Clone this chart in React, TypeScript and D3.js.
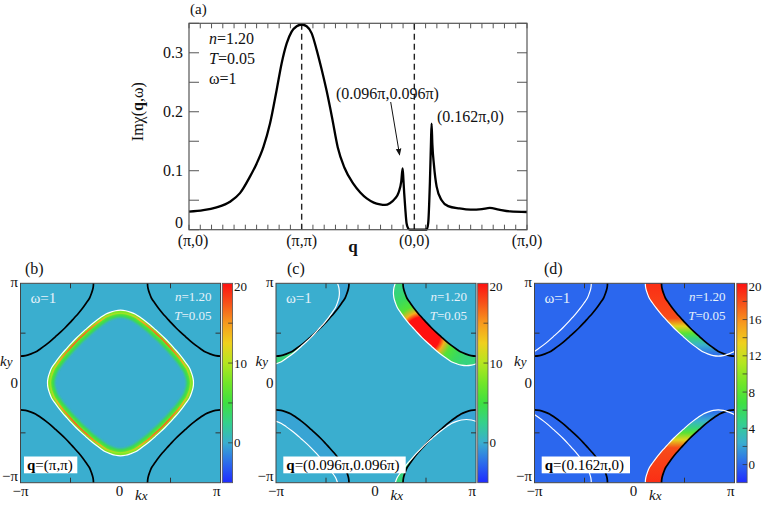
import React from 'react';
import * as d3 from 'd3';

document.body.style.margin = '0';

const W = 763;
const H = 508;
const FONT = '"Liberation Serif", "Times New Roman", serif';

// ---- panel (a): Im chi along (pi,0) -> (pi,pi) -> (0,0) -> (pi,0), one unit per segment
const qPath = [
  0, 0.127, 0.245, 0.364, 0.4525, 0.541, 0.6, 0.66, 0.719, 0.778, 0.822, 0.867, 0.911, 0.956, 1.0,
  1.044, 1.089, 1.133, 1.177, 1.222, 1.27, 1.32, 1.38, 1.458, 1.52, 1.577, 1.64, 1.695, 1.74, 1.783,
  1.83, 1.86, 1.884, 1.896, 1.903, 1.91, 1.92, 1.931, 1.945, 1.96, 2.03, 2.109, 2.123, 2.138, 2.148,
  2.153, 2.16, 2.174, 2.198, 2.242, 2.3, 2.4, 2.5, 2.6, 2.67, 2.75, 2.85, 3.0,
];
const chiValues = [
  0.0305, 0.033, 0.038, 0.0475, 0.062, 0.09, 0.112, 0.14, 0.18, 0.237, 0.282, 0.316, 0.336, 0.345, 0.348,
  0.345, 0.333, 0.305, 0.272, 0.235, 0.19, 0.14, 0.105, 0.078, 0.063, 0.053, 0.046, 0.043, 0.042, 0.045,
  0.053, 0.063, 0.082, 0.104, 0.085, 0.062, 0.035, 0.011, 0.0025, 0, 0, 0, 0.011, 0.079, 0.15,
  0.18, 0.145, 0.11, 0.073, 0.05, 0.04, 0.036, 0.034, 0.035, 0.037, 0.034, 0.031, 0.03,
];
const qTickPos = [0, 1, 2, 3];
const qTickLabels = ['(π,0)', '(π,π)', '(0,0)', '(π,0)'];
const chiTickLabels = [0, 0.1, 0.2, 0.3];
const dashedAt = [1, 2];

// ---- Fermi-surface arc (one quadrant round a pocket centre), offsets in units of pi
const fsArcX = [0.73, 0.725, 0.71, 0.69, 0.656, 0.62, 0.58, 0.535, 0.49, 0.446, 0.4, 0.35, 0.3, 0.25, 0.2, 0.15, 0.1, 0.05, 0];
const fsArcY = [0, 0.05, 0.1, 0.15, 0.2, 0.25, 0.3, 0.35, 0.4, 0.446, 0.49, 0.535, 0.58, 0.62, 0.656, 0.69, 0.71, 0.725, 0.73];
const pocketCentresX = [1, -1, 1, -1];
const pocketCentresY = [1, 1, -1, -1];

// ---- maps (b), (c), (d)
const mapIds = ['b', 'c', 'd'];
const mapQx = [1, 0.096, 0.162];
const mapQy = [1, 0.096, 0];
const mapQLabels = ['(π,π)', '(0.096π,0.096π)', '(0.162π,0)'];
const cbMin = [-5, -5, -2];
const cbMax = [20, 20, 20];
const cbTickValues = [[0, 5, 10, 15], [0, 5, 10, 15], [0, 2, 4, 6, 8, 10, 12, 14, 16, 18]];
const cbTickLabels = [[0, 10, 20], [0, 10, 20], [0, 4, 8, 12, 16, 20]];

// colour map (fraction of colour-bar range -> colour)
const cmapPos = [0, 0.09, 0.2, 0.3, 0.4, 0.5, 0.6, 0.7, 0.8, 0.9, 1];
const cmapColors = ['#1f2bff', '#2b66ee', '#3aaecf', '#34d08c', '#3ee040', '#72e628', '#b4e620', '#efd01e', '#f79a1e', '#f6521a', '#ff1010'];

// intensities
const bBandLevels = [5, 8];
const bRidgeStops = [0, 0.8, 0.87, 0.93, 1];
const bRidgeLevels = [17, 17, 14, 9, 6];
const cBlobCentre = [0.46, 0.48];
const cBlobStops = [0, 0.36, 0.46, 0.6, 0.8, 1];
const cBlobLevels = [20, 20, 14, 6, 4, 3];
const cNegLevel = -0.4;
const dBandKy = [1, 0.65, 0.57, 0.5, 0.45, 0.38, 0.3, 0];
const dBandLevels = [19, 18, 13, 8, 5, 2.5, 0.5, 0];

// layout
const mapLeft = [20.5, 276, 534.5];
const mapSize = 200;
const mapTop = 283.3;
const mapBottom = 482.7;
const cbLeft = [222.3, 477.7, 736.8];
const cbWidth = 10.3;
const letterX = [25, 287, 544];
const qBoxX = [24, 283.3, 541.7];
const qBoxW = [53.3, 122.4, 88.3];

const xA = d3.scaleLinear().domain([0, 3]).range([189, 527]);
const yA = d3.scaleLinear().domain([0, 0.35]).range([229.7, 23.3]);

// full closed pocket built from the quadrant arc
const ring: [number, number][] = (() => {
  const n = fsArcX.length;
  const pts: [number, number][] = [];
  for (let i = 0; i < n; i++) pts.push([fsArcX[i], fsArcY[i]]);
  for (let i = n - 2; i >= 0; i--) pts.push([-fsArcX[i], fsArcY[i]]);
  for (let i = 1; i < n; i++) pts.push([-fsArcX[i], -fsArcY[i]]);
  for (let i = n - 2; i >= 1; i--) pts.push([fsArcX[i], -fsArcY[i]]);
  return pts;
})();

function ChiPanel() {
  const line = d3.line<number>()
    .x((_, i) => xA(qPath[i]))
    .y(d => yA(d))
    .curve(d3.curveMonotoneX);
  const [x0, x1] = xA.range();
  const [y0, y1] = yA.range();
  const minorX = d3.range(0, 31).map(i => i / 10);
  const minorY = d3.range(0, 8).map(i => i * 0.05);
  return (
    <g fontFamily={FONT} fill="#111">
      <text x={190} y={14} fontSize={15}>(a)</text>
      {minorX.map(t => (
        <g key={'xt' + t} stroke="#555" strokeWidth={1}>
          <line x1={xA(t)} x2={xA(t)} y1={y0} y2={y0 - 5} />
          <line x1={xA(t)} x2={xA(t)} y1={y1} y2={y1 + 5} />
        </g>
      ))}
      {minorY.map(v => (
        <g key={'yt' + v} stroke="#555" strokeWidth={1}>
          <line x1={x0} x2={x0 + 10} y1={yA(v)} y2={yA(v)} />
          <line x1={x1} x2={x1 - 10} y1={yA(v)} y2={yA(v)} />
        </g>
      ))}
      {dashedAt.map(t => (
        <line key={'d' + t} x1={xA(t)} x2={xA(t)} y1={y0} y2={y1} stroke="#222" strokeWidth={1.4} strokeDasharray="6,4" />
      ))}
      <path d={line(chiValues) || ''} fill="none" stroke="#000" strokeWidth={2.3} />
      <rect x={x0} y={y1} width={x1 - x0} height={y0 - y1} fill="none" stroke="#555" strokeWidth={1.2} />
      {chiTickLabels.map(v => (
        <text key={'yl' + v} x={183} y={v === 0 ? 228 : yA(v) + 5.5} fontSize={16} textAnchor="end">{v}</text>
      ))}
      {qTickPos.map((t, i) => (
        <text key={'xl' + t} x={xA(t) + (i === 0 ? 4 : 0)} y={246} fontSize={16} textAnchor="middle">{qTickLabels[i]}</text>
      ))}
      <text x={353} y={252} fontSize={17} fontWeight="bold" textAnchor="middle">q</text>
      <text transform="translate(143,111.7) rotate(-90)" fontSize={16} textAnchor="middle">
        Imχ(<tspan fontWeight="bold">q</tspan>,ω)
      </text>
      <text x={209} y={44} fontSize={16}><tspan fontStyle="italic">n</tspan>=1.20</text>
      <text x={209} y={64} fontSize={16}><tspan fontStyle="italic">T</tspan>=0.05</text>
      <text x={209} y={83.5} fontSize={16}>ω=1</text>
      <text x={336} y={99} fontSize={16}>(0.096π,0.096π)</text>
      <text x={437} y={122} fontSize={16}>(0.162π,0)</text>
      <line x1={390.7} y1={102} x2={399.6} y2={155} stroke="#111" strokeWidth={1} markerEnd="url(#arrowhead)" />
    </g>
  );
}

function MapPanel({ i }: { i: number }) {
  const id = mapIds[i];
  const x0 = mapLeft[i];
  const x1 = x0 + mapSize;
  const kx = d3.scaleLinear().domain([-1, 1]).range([x0, x1]);
  const ky = d3.scaleLinear().domain([-1, 1]).range([mapBottom, mapTop]);
  const lo = cbMin[i];
  const hi = cbMax[i];
  const color = d3.scaleLinear<string>()
    .domain(cmapPos.map(f => lo + f * (hi - lo)))
    .range(cmapColors)
    .interpolate(d3.interpolateRgb);
  const cbY = d3.scaleLinear().domain([lo, hi]).range([mapBottom, mapTop]);

  const pocket = (cx: number, cy: number, s = 1) =>
    d3.line<[number, number]>()
      .x(p => kx(cx + s * p[0]))
      .y(p => ky(cy + s * p[1]))
      .curve(d3.curveCatmullRomClosed)(ring) || '';

  const blackPaths = pocketCentresX.map((cx, j) => pocket(cx, pocketCentresY[j]));
  const whiteCentres: [number, number][] = [];
  pocketCentresX.forEach((cx, j) => {
    for (const m of [-2, 0, 2]) {
      for (const n of [-2, 0, 2]) {
        const wx = cx - mapQx[i] + m;
        const wy = pocketCentresY[j] - mapQy[i] + n;
        if (Math.abs(wx) < 1.8 && Math.abs(wy) < 1.8 && !whiteCentres.some(c => Math.abs(c[0] - wx) < 1e-6 && Math.abs(c[1] - wy) < 1e-6)) {
          whiteCentres.push([wx, wy]);
        }
      }
    }
  });
  const whitePaths = whiteCentres.map(c => pocket(c[0], c[1]));
  const ridgePaths = whiteCentres.map(c => pocket(c[0], c[1], 0.962));

  const dStops: { o: number; v: number }[] = [];
  dBandKy.forEach((k, j) => dStops.push({ o: (1 - k) / 2, v: dBandLevels[j] }));
  for (let j = dBandKy.length - 2; j >= 0; j--) dStops.push({ o: (1 + dBandKy[j]) / 2, v: dBandLevels[j] });

  const innerTicks = [-0.5, 0.5];
  const cbTop = mapTop;
  const cbBottom = mapBottom;

  return (
    <g fontFamily={FONT}>
      <defs>
        <clipPath id={`panel-${id}`}>
          <rect x={x0} y={mapTop} width={mapSize} height={mapBottom - mapTop} />
        </clipPath>
        <clipPath id={`win-${id}`}>
          {whitePaths.map((d, j) => <path key={j} d={d} />)}
        </clipPath>
        <mask id={`pos-${id}`} maskUnits="userSpaceOnUse" x={0} y={0} width={W} height={H}>
          <rect x={0} y={0} width={W} height={H} fill="black" />
          {whitePaths.map((d, j) => <path key={'w' + j} d={d} fill="white" />)}
          {blackPaths.map((d, j) => <path key={'b' + j} d={d} fill="black" />)}
        </mask>
        <mask id={`neg-${id}`} maskUnits="userSpaceOnUse" x={0} y={0} width={W} height={H}>
          <rect x={0} y={0} width={W} height={H} fill="black" />
          {blackPaths.map((d, j) => <path key={'b' + j} d={d} fill="white" />)}
          {whitePaths.map((d, j) => <path key={'w' + j} d={d} fill="black" />)}
        </mask>
        <radialGradient id={`ridge-${id}`} gradientUnits="userSpaceOnUse" cx={kx(0)} cy={ky(0)} r={75}>
          {bRidgeStops.map((o, j) => <stop key={j} offset={o} stopColor={color(bRidgeLevels[j])} />)}
        </radialGradient>
        <radialGradient id={`blob-${id}`} gradientUnits="userSpaceOnUse" cx={kx(cBlobCentre[0])} cy={ky(cBlobCentre[1])} r={50}>
          {cBlobStops.map((o, j) => <stop key={j} offset={o} stopColor={color(cBlobLevels[j])} />)}
        </radialGradient>
        <linearGradient id={`crescent-${id}`} gradientUnits="userSpaceOnUse" x1={0} y1={ky(1)} x2={0} y2={ky(-1)}>
          {dStops.map((s, j) => <stop key={j} offset={s.o} stopColor={color(s.v)} />)}
        </linearGradient>
        <linearGradient id={`cb-${id}`} x1={0} y1={1} x2={0} y2={0}>
          {cmapPos.map((f, j) => <stop key={j} offset={f} stopColor={cmapColors[j]} />)}
        </linearGradient>
        <filter id={`soft-${id}`} x="-10%" y="-10%" width="120%" height="120%">
          <feGaussianBlur stdDeviation={1.2} />
        </filter>
      </defs>

      <text x={letterX[i]} y={274} fontSize={16} fill="#111">({id})</text>

      <g clipPath={`url(#panel-${id})`}>
        <rect x={x0} y={mapTop} width={mapSize} height={mapBottom - mapTop} fill={color(0)} />
        {i === 0 && (
          <g clipPath={`url(#win-${id})`}>
            <g filter={`url(#soft-${id})`}>
              {whitePaths.map((d, j) => <path key={'g' + j} d={d} fill="none" stroke={color(bBandLevels[0])} strokeWidth={14} />)}
              {whitePaths.map((d, j) => <path key={'y' + j} d={d} fill="none" stroke={color(bBandLevels[1])} strokeWidth={7} />)}
            </g>
            {ridgePaths.map((d, j) => <path key={'r' + j} d={d} fill="none" stroke={`url(#ridge-${id})`} strokeWidth={1.6} />)}
          </g>
        )}
        {i === 1 && (
          <g>
            <rect x={x0} y={mapTop} width={mapSize} height={mapBottom - mapTop} fill={color(cNegLevel)} mask={`url(#neg-${id})`} />
            <rect x={x0} y={mapTop} width={mapSize} height={mapBottom - mapTop} fill={`url(#blob-${id})`} mask={`url(#pos-${id})`} />
          </g>
        )}
        {i === 2 && (
          <rect x={x0} y={mapTop} width={mapSize} height={mapBottom - mapTop} fill={`url(#crescent-${id})`} mask={`url(#pos-${id})`} />
        )}
        {blackPaths.map((d, j) => <path key={'bk' + j} d={d} fill="none" stroke="#000" strokeWidth={1.7} />)}
        {whitePaths.map((d, j) => <path key={'wh' + j} d={d} fill="none" stroke="#fff" strokeWidth={1.2} />)}
      </g>

      <rect x={x0} y={mapTop} width={mapSize} height={mapBottom - mapTop} fill="none" stroke="#444" strokeWidth={1} />
      {innerTicks.map(t => (
        <g key={'t' + t} stroke="#333" strokeWidth={1}>
          <line x1={kx(t)} x2={kx(t)} y1={mapBottom} y2={mapBottom - 5} />
          <line x1={kx(t)} x2={kx(t)} y1={mapTop} y2={mapTop + 5} />
          <line x1={x0} x2={x0 + 5} y1={ky(t)} y2={ky(t)} />
          <line x1={x1} x2={x1 - 5} y1={ky(t)} y2={ky(t)} />
        </g>
      ))}

      <text x={x0 + 10} y={303} fontSize={15} fill="#e6f2fa">ω=1</text>
      <text x={x1 - 9} y={301} fontSize={13} fill="#e6f2fa" textAnchor="end"><tspan fontStyle="italic">n</tspan>=1.20</text>
      <text x={x1 - 9} y={320} fontSize={13} fill="#e6f2fa" textAnchor="end"><tspan fontStyle="italic">T</tspan>=0.05</text>

      <rect x={qBoxX[i]} y={456.5} width={qBoxW[i]} height={16.8} fill="#fff" />
      <text x={qBoxX[i] + 3} y={469.5} fontSize={15} fill="#000">
        <tspan fontWeight="bold">q</tspan>={mapQLabels[i]}
      </text>

      <g fontSize={15} fill="#111">
        <text x={x0 - 2.5} y={286.7} textAnchor="end">π</text>
        <text x={x0 - 2.5} y={388} textAnchor="end">0</text>
        <text x={x0 - 2.5} y={480.5} textAnchor="end">−π</text>
        <text x={x0} y={496} textAnchor="middle">−π</text>
        <text x={kx(0) - 1} y={496} textAnchor="middle">0</text>
        <text x={x1} y={496} textAnchor="end">π</text>
        <text x={kx(0) + 14.5} y={500} fontStyle="italic">k<tspan fontSize={13}>x</tspan></text>
        <text x={x0 - 20.5} y={366} fontStyle="italic">k<tspan fontSize={13}>y</tspan></text>
      </g>

      <rect x={cbLeft[i]} y={cbTop} width={cbWidth} height={cbBottom - cbTop} fill={`url(#cb-${id})`} stroke="#555" strokeWidth={0.8} />
      {cbTickValues[i].map(v => (
        <line key={'cbt' + v} x1={cbLeft[i] + cbWidth - 4.5} x2={cbLeft[i] + cbWidth} y1={cbY(v)} y2={cbY(v)} stroke="#333" strokeOpacity={0.75} strokeWidth={1} />
      ))}
      {cbTickLabels[i].map(v => (
        <text key={'cbl' + v} x={cbLeft[i] + cbWidth + 1.5} y={Math.max(cbY(v), cbTop + 3.5) + 4.5} fontSize={13} fill="#111">{v}</text>
      ))}
    </g>
  );
}

export default function App() {
  return (
    <svg width={W} height={H} viewBox={`0 0 ${W} ${H}`} style={{ display: 'block', background: '#fff' }}>
      <defs>
        <marker id="arrowhead" viewBox="0 0 10 10" refX={9} refY={5} markerWidth={7} markerHeight={7} orient="auto">
          <path d="M0,1 L10,5 L0,9 z" fill="#111" />
        </marker>
      </defs>
      <ChiPanel />
      {mapIds.map((_, i) => <MapPanel key={i} i={i} />)}
    </svg>
  );
}
